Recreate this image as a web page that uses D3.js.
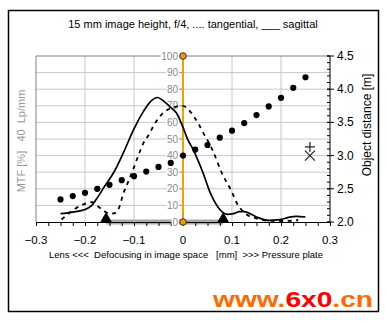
<!DOCTYPE html>
<html><head><meta charset="utf-8">
<script src="https://cdn.jsdelivr.net/npm/d3@7"></script>
<style>
body{margin:0;background:#fff;}
svg text{font-family:"Liberation Sans",Arial,sans-serif;}
</style></head>
<body><svg id="c" width="386" height="323"></svg>
<script>
const title = "15 mm image height, f/4, .... tangential, ___ sagittal";
const xLabel = "Lens <<<  Defocusing in image space   [mm]  >>> Pressure plate";
const leftLabel = "MTF [%]   40  Lp/mm";
const rightLabel = "Object distance [m]";
const xTicks = [-0.3, -0.2, -0.1, 0, 0.1, 0.2, 0.3];
const mtfTicks = [0,10,20,30,40,50,60,70,80,90,100];
const objTicks = [2.0, 2.5, 3.0, 3.5, 4.0, 4.5];

// object distance dots
const dotX = [-0.25,-0.225,-0.2,-0.175,-0.15,-0.125,-0.1,-0.075,-0.05,-0.025,0,0.025,0.05,0.075,0.1,0.125,0.15,0.175,0.2,0.225,0.25];
const dotY = [2.34,2.39,2.44,2.50,2.56,2.63,2.69,2.76,2.83,2.89,3.0,3.09,3.16,3.27,3.375,3.49,3.61,3.74,3.87,4.02,4.18];

// sagittal (solid)
const sagX = [-0.25,-0.225,-0.2,-0.186,-0.174,-0.16,-0.142,-0.122,-0.101,-0.081,-0.065,-0.052,-0.04,-0.025,-0.013,0,0.01,0.021,0.041,0.055,0.065,0.076,0.09,0.103,0.115,0.125,0.14,0.155,0.175,0.198,0.215,0.232,0.25];
const sagY = [5,6,7.5,10,15,21.5,29.5,41.5,55.5,66.5,73,75,73,69,65.5,57,49.5,43.5,29.5,18,12,7.2,4.6,5,6.2,6.3,4.5,2.5,1,1.4,2.8,3.4,3];

// tangential (dashed)
const tanX = [-0.248,-0.22,-0.197,-0.185,-0.176,-0.163,-0.149,-0.138,-0.13,-0.122,-0.115,-0.1,-0.09,-0.08,-0.071,-0.06,-0.043,-0.02,0,0.01,0.02,0.03,0.04,0.06,0.08,0.099,0.11,0.127,0.15,0.174,0.2,0.225,0.235];
const tanY = [1.5,8,11.3,12,10,7,5,5.5,9,17,22,33,41,48,52,58,65,69,70,68,64.5,60,54.5,43.5,29,18.5,11.3,5.2,2.2,0.8,0.6,0.8,1.2];

// focus range markers
const rangeX = [-0.157, 0.082];
// special markers (object distance)
const plusPt = {x:0.259, y:3.13};
const crossPt = {x:0.259, y:3.0};

const svg = d3.select("#c");
const x = d3.scaleLinear().domain([-0.3,0.3]).range([36,330]);
const yM = d3.scaleLinear().domain([0,100]).range([222,56]);
const yO = d3.scaleLinear().domain([2,4.5]).range([222,56]);

// frame
svg.append("rect").attr("x",8.5).attr("y",10.5).attr("width",370).attr("height",301)
  .attr("fill","#fff").attr("stroke","#000").attr("stroke-width",1.5);

// title
svg.append("text").attr("x",193).attr("y",28).attr("text-anchor","middle")
  .attr("font-size",11).text(title);

// gridlines
const g = svg.append("g");
g.selectAll(".hg").data(mtfTicks.slice(1,-1)).join("line")
  .attr("x1",x(-0.3)).attr("x2",x(0.3)).attr("y1",d=>yM(d)).attr("y2",d=>yM(d))
  .attr("stroke","#c8c8c8").attr("stroke-width",1);
g.selectAll(".vg").data([-0.2,-0.1,0.1,0.2]).join("line")
  .attr("x1",d=>x(d)).attr("x2",d=>x(d)).attr("y1",yM(100)).attr("y2",yM(0))
  .attr("stroke","#c8c8c8").attr("stroke-width",1);
// top and left border
g.append("line").attr("x1",x(-0.3)).attr("x2",x(0.3)).attr("y1",yM(100)).attr("y2",yM(100)).attr("stroke","#808080");
g.append("line").attr("x1",x(-0.3)).attr("x2",x(-0.3)).attr("y1",yM(100)).attr("y2",yM(0)).attr("stroke","#808080");

// gray focus-range band on axis
svg.append("rect").attr("x",x(rangeX[0])).attr("y",yM(0)-2.5).attr("width",x(rangeX[1])-x(rangeX[0])).attr("height",5)
  .attr("fill","#a8a8a8");

// bottom axis
const xa = svg.append("g").attr("transform",`translate(0,${yM(0)})`)
  .call(d3.axisBottom(x).tickValues(d3.range(-12,13).map(i=>i*0.025)).tickSize(4).tickFormat(""));
xa.select(".domain").attr("stroke","#000");
svg.append("g").selectAll("text").data(xTicks).join("text")
  .attr("x",d=>x(d)).attr("y",244).attr("text-anchor","middle").attr("font-size",11.5)
  .text(d=>d===0?"0":d3.format(".1f")(d));
svg.append("text").attr("x",186).attr("y",258).attr("text-anchor","middle").attr("font-size",9.5)
  .style("white-space","pre").text(xLabel);

// right axis
const ra = svg.append("g").attr("transform",`translate(${x(0.3)},0)`);
ra.append("line").attr("x1",0).attr("x2",0).attr("y1",yO(4.5)).attr("y2",yO(2)).attr("stroke","#000");
const minorO = d3.range(20,46).map(i=>i/10);
ra.selectAll(".mt").data(minorO).join("line").attr("x1",-3).attr("x2",0)
  .attr("y1",d=>yO(d)).attr("y2",d=>yO(d)).attr("stroke","#000");
ra.selectAll(".Mt").data(objTicks).join("line").attr("x1",-3).attr("x2",4)
  .attr("y1",d=>yO(d)).attr("y2",d=>yO(d)).attr("stroke","#000");
ra.selectAll("text").data(objTicks).join("text").attr("x",7).attr("y",d=>yO(d)+4)
  .attr("font-size",12).text(d=>d.toFixed(1));
svg.append("text").attr("transform","translate(371,125) rotate(-90)").attr("text-anchor","middle")
  .attr("font-size",12).text(rightLabel);

// left label
svg.append("text").attr("transform","translate(25,141) rotate(-90)").attr("text-anchor","middle")
  .attr("font-size",11).attr("fill","#999").style("white-space","pre").text(leftLabel);

// orange MTF axis at 0
const ma = svg.append("g");
ma.selectAll("line").data(mtfTicks).join("line").attr("x1",x(0)-4).attr("x2",x(0))
  .attr("y1",d=>yM(d)).attr("y2",d=>yM(d)).attr("stroke","#888");
ma.selectAll("text").data(mtfTicks).join("text").attr("x",x(0)-5).attr("y",d=>yM(d)+3.5)
  .attr("text-anchor","end").attr("font-size",10).attr("fill","#8a8a8a")
  .attr("stroke","#fff").attr("stroke-width",3).attr("paint-order","stroke").text(d=>d);
svg.append("line").attr("x1",x(0)).attr("x2",x(0)).attr("y1",yM(100)).attr("y2",yM(0))
  .attr("stroke","#f5a000").attr("stroke-width",2);

// curves
const line = d3.line().curve(d3.curveMonotoneX);
svg.append("path").attr("d",line(sagX.map((v,i)=>[x(v),yM(sagY[i])])))
  .attr("fill","none").attr("stroke","#000").attr("stroke-width",1.7);
svg.append("path").attr("d",line(tanX.map((v,i)=>[x(v),yM(tanY[i])])))
  .attr("fill","none").attr("stroke","#000").attr("stroke-width",1.8).attr("stroke-dasharray","4,4.5");

// dots
svg.append("g").selectAll("circle").data(dotX).join("circle")
  .attr("cx",d=>x(d)).attr("cy",(d,i)=>yO(dotY[i])).attr("r",3.1).attr("fill","#000");

// orange end circles
svg.append("g").selectAll("circle").data([0,100]).join("circle")
  .attr("cx",x(0)).attr("cy",d=>yM(d)).attr("r",3.3).attr("fill","#f59a00").attr("stroke","#333").attr("stroke-width",1);

// triangles
svg.append("g").selectAll("path").data(rangeX).join("path")
  .attr("d",d=>`M${x(d)-6},${yM(0)+0.5} L${x(d)+6},${yM(0)+0.5} L${x(d)},${yM(0)-10} Z`).attr("fill","#000");

// plus and cross
const px = x(plusPt.x), py = yO(plusPt.y), cx = x(crossPt.x), cy = yO(crossPt.y);
svg.append("path").attr("d",`M${px-5},${py} H${px+5} M${px},${py-5} V${py+5}`).attr("stroke","#222").attr("stroke-width",1.2);
svg.append("path").attr("d",`M${cx-5},${cy-5} L${cx+5},${cy+5} M${cx+5},${cy-5} L${cx-5},${cy+5}`).attr("stroke","#222").attr("stroke-width",1.2);

// watermark
const wm = svg.append("text").attr("x",213).attr("y",307)
  .attr("font-size",22).attr("font-weight","bold").attr("font-family","'DejaVu Sans',Arial,sans-serif")
  .attr("textLength",160).attr("lengthAdjust","spacingAndGlyphs");
wm.append("tspan").attr("fill","#ff6a00").text("www.");
wm.append("tspan").attr("fill","#ff0000").text("6x0");
wm.append("tspan").attr("fill","#ff6a00").text(".cn");
</script></body></html>
